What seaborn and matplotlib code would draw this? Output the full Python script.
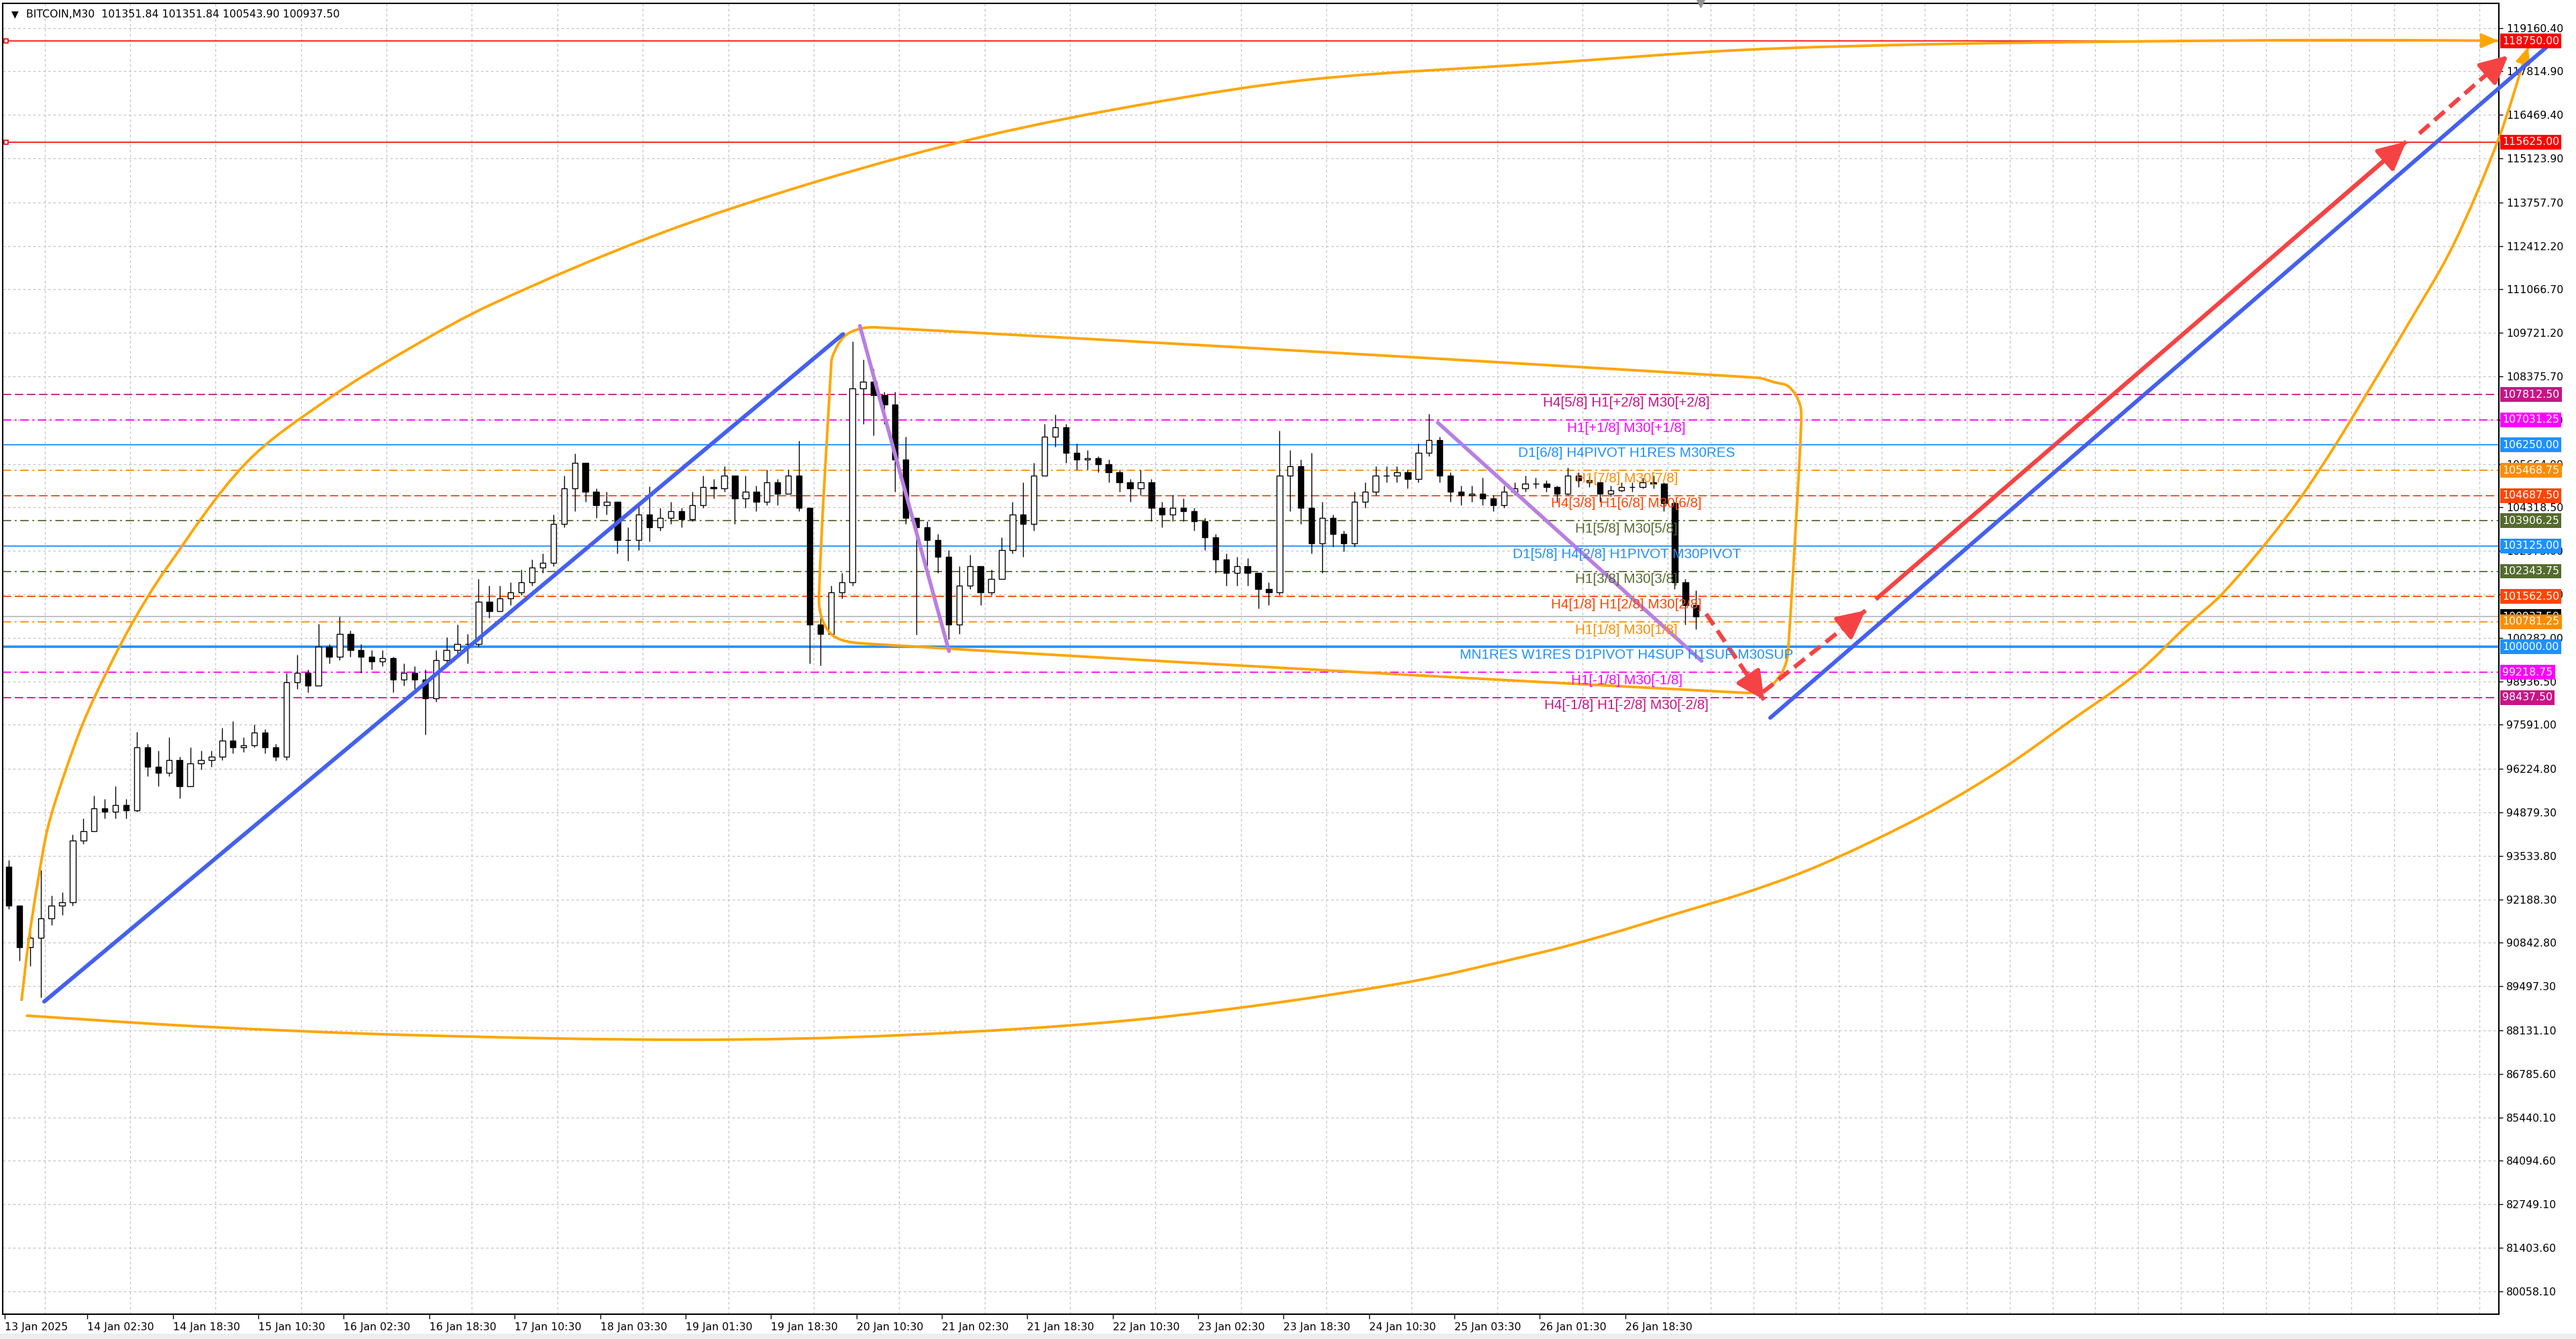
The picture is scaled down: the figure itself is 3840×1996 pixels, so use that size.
import numpy as np
import pandas as pd
import matplotlib
matplotlib.use("Agg")
import matplotlib.pyplot as plt
from matplotlib.transforms import blended_transform_factory
from matplotlib.patches import Rectangle, PathPatch
from matplotlib.path import Path
import seaborn as sns

# ------------------------------------------------------------------ data
title_text = "BITCOIN,M30  101351.84 101351.84 100543.90 100937.50"
bars_per_candle = 4          # each drawn candle aggregates 4 M30 bars (2 hours)
first_open = 93200.0

close_2h = [92000, 90700, 91000, 91600, 92000, 92100, 94000, 94300, 95000, 94900,
            95100, 94950, 96900, 96300, 96100, 96500, 95700, 96400, 96500, 96600,
            97100, 96900, 96950, 97350, 96900, 96600, 98900, 99200, 98800, 100000,
            99700, 100400, 99900, 99700, 99550, 99650, 99000, 99200, 99000, 98400,
            99600, 99900, 100100, 100100, 101400, 101100, 101500, 101700, 102000, 102450,
            102600, 103800, 104900, 105700, 104800, 104400, 104500, 103300, 103300, 104100,
            103700, 104000, 104200, 103950, 104400, 104950, 104900, 105300, 104600, 104800,
            104500, 105100, 104750, 105300, 104300, 100700, 100400, 101700, 102000, 108000,
            108200, 107800, 107500, 105800, 104000, 103700, 103300, 102800, 100700, 101900,
            102500, 101700, 102100, 103000, 104100, 103800, 105300, 106500, 106800, 106000,
            105800, 105850, 105650, 105400, 105100, 104900, 105100, 104300, 104100, 104300,
            104200, 103900, 103400, 102700, 102300, 102500, 102300, 101800, 101700, 105300,
            105600, 104300, 103200, 104000, 103500, 103200, 104500, 104800, 105300, 105300,
            105400, 105200, 106000, 106400, 105300, 104800, 104700, 104750, 104600, 104400,
            104800, 104900, 105050, 105050, 104950, 104750, 105300, 105150, 105100, 104750,
            104850, 104950, 104950, 105100, 105050, 104450, 102000, 101300, 100937.5]

high_2h = [93400, 92000, 91300, 93100, 92300, 92400, 94200, 94700, 95400, 95300,
           95700, 95300, 97380, 97000, 96800, 97200, 96600, 96900, 96800, 96800,
           97500, 97700, 97200, 97600, 97450, 97000, 99200, 99764, 99300, 100710,
           100100, 100935, 100500, 100100, 99900, 99900, 99700, 99500, 99400, 99300,
           99900, 100300, 100700, 100400, 102100, 101900, 101900, 102000, 102400, 102700,
           102900, 104100, 105300, 105990, 105600, 104900, 104800, 104500, 103700, 104400,
           104970, 104300, 104500, 104300, 104800, 105300, 105200, 105600, 105300, 105300,
           105000, 105500, 105200, 105500, 106380, 104300, 101200, 101900, 102300, 109450,
           108900, 108600, 107900, 107900, 106500, 104000, 103900, 103500, 103000, 102500,
           102850, 102100, 102400, 103400, 104500, 105100, 105700, 106900, 107200, 106900,
           106300, 106100, 105900, 105800, 105500, 105200, 105500, 105200, 104500, 104700,
           104600, 104300, 104000, 103500, 102900, 102800, 102750, 102200, 102000, 106700,
           106100, 105800, 106000, 104500, 104100, 103600, 104800, 105100, 105600, 105600,
           105600, 105500, 106300, 107220, 106500, 105400, 105000, 105000, 105250, 104700,
           105000, 105100, 105300, 105250, 105150, 105000, 105560, 105400, 105300, 105100,
           105000, 105100, 105100, 105250, 105300, 105100, 104500, 102100, 101750]

low_2h = [91900, 90300, 90130, 89140, 91400, 91700, 92000, 93900, 94300, 94700,
          94700, 94700, 94900, 96000, 95700, 96000, 95310, 95800, 96200, 96300,
          96500, 96700, 96750, 96900, 96700, 96470, 96500, 98700, 98590, 98900,
          99500, 99600, 99700, 99200, 99300, 99400, 98600, 98800, 98700, 97290,
          98300, 99400, 99700, 99500, 100000, 100900, 101100, 101300, 101600, 101900,
          102300, 102500, 103700, 104200, 104500, 104000, 104100, 102900, 102670, 103000,
          103270, 103600, 103800, 103700, 103900, 104300, 104600, 104800, 103800, 104300,
          104200, 104400, 104400, 104800, 104200, 99480, 99425, 100500, 101500, 101900,
          106900, 106540, 106900, 104800, 103800, 100390, 102500, 102300, 100240, 100400,
          101800, 101300, 101600, 102200, 102900, 102800, 103600, 105300, 106200, 105700,
          105500, 105500, 105400, 105100, 104800, 104500, 104700, 103900, 103700, 103900,
          103900, 103600, 103000, 102300, 101900, 101900, 101900, 101200, 101300, 101600,
          104200, 103800, 102900, 102300, 103100, 102950, 103100, 104300, 104700, 105100,
          105100, 104900, 105100, 105900, 105100, 104500, 104400, 104500, 104400, 104200,
          104300, 104700, 104800, 104900, 104800, 104500, 104700, 104950, 104950, 104500,
          104650, 104800, 104800, 104900, 104900, 104200, 101800, 100700, 100543.9]

price_ticks = [119160.40, 117814.90, 116469.40, 115123.90, 113757.70, 112412.20, 111066.70,
               109721.20, 108375.70, 107030.20, 105664.00, 104318.50, 102973.00, 101627.50,
               100282.00, 98936.50, 97591.00, 96224.80, 94879.30, 93533.80, 92188.30,
               90842.80, 89497.30, 88131.10, 86785.60, 85440.10, 84094.60, 82749.10,
               81403.60, 80058.10]

date_bars = [0, 31, 63, 95, 127, 159, 191, 223, 255, 287, 319, 351, 383, 415, 447,
             479, 511, 543, 575, 607]
date_labels = ["13 Jan 2025", "14 Jan 02:30", "14 Jan 18:30", "15 Jan 10:30", "16 Jan 02:30",
               "16 Jan 18:30", "17 Jan 10:30", "18 Jan 03:30", "19 Jan 01:30", "19 Jan 18:30",
               "20 Jan 10:30", "21 Jan 02:30", "21 Jan 18:30", "22 Jan 10:30", "23 Jan 02:30",
               "23 Jan 18:30", "24 Jan 10:30", "25 Jan 03:30", "26 Jan 01:30", "26 Jan 18:30"]

# Murrey / pivot levels
level_prices = [107812.50, 107031.25, 106250.00, 105468.75, 104687.50, 103906.25, 103125.00,
                102343.75, 101562.50, 100781.25, 100000.00, 99218.75, 98437.50]
level_colors = ["#C71585", "#FF00FF", "#1E90FF", "#FF8C00", "#FF4500", "#556B2F", "#1E90FF",
                "#556B2F", "#FF4500", "#FF8C00", "#1E90FF", "#FF00FF", "#C71585"]
level_kinds = ["dash", "dashdot", "solid", "dashdot", "dash", "dashdot", "solid",
               "dashdot", "dash", "dashdot", "solid2", "dashdot", "dash"]
level_texts = ["H4[5/8] H1[+2/8] M30[+2/8]", "H1[+1/8] M30[+1/8]",
               "D1[6/8] H4PIVOT H1RES M30RES", "H1[7/8] M30[7/8]",
               "H4[3/8] H1[6/8] M30[6/8]", "H1[5/8] M30[5/8]",
               "D1[5/8] H4[2/8] H1PIVOT M30PIVOT", "H1[3/8] M30[3/8]",
               "H4[1/8] H1[2/8] M30[2/8]", "H1[1/8] M30[1/8]",
               "MN1RES W1RES D1PIVOT H4SUP H1SUP M30SUP", "H1[-1/8] M30[-1/8]",
               "H4[-1/8] H1[-2/8] M30[-2/8]"]
target_prices = [118750.00, 115625.00]
bid_price = 100937.50

box_prices = [118750.00, 115625.00, 107812.50, 107031.25, 106250.00, 105468.75, 104687.50,
              103906.25, 103125.00, 102343.75, 101562.50, 100937.50, 100781.25, 100000.00,
              99218.75, 98437.50]
box_colors = ["#FF0000", "#FF0000", "#C71585", "#FF00FF", "#1E90FF", "#FF8C00", "#FF4500",
              "#556B2F", "#1E90FF", "#556B2F", "#FF4500", "#000000", "#FF8C00", "#1E90FF",
              "#FF00FF", "#C71585"]

# drawn objects (bar index, price)
blue1_x, blue1_y = [14.8, 314.0], [89025, 109684]
blue2_x, blue2_y = [661.3, 955.0], [97808, 118779]
purple1_x, purple1_y = [320.3, 353.7], [109940, 99870]
purple2_x, purple2_y = [536.8, 635.6], [106944, 99567]

box_x = [309.5, 310.1, 314.1, 319.6, 326.4, 656.3, 662.8, 668.3, 672.4, 672.8, 670.6, 668.3,
         667.3, 663.8, 658.4, 650.3, 320.9, 310.8, 306.3, 305.0]
box_y = [108626, 109000, 109581, 109830, 109892, 108335, 108194, 108055, 107505, 106805,
         103373, 100287, 99531, 98985, 98643, 98587, 100113, 100320, 100839, 101566]

arc_top_x = [6.3, 8.9, 12.6, 16.3, 22.4, 29.6, 38.2, 47.9, 60.1, 90.2, 121.1, 151.8, 182.7,
             244.2, 305.5, 367.1, 428.6, 490.2, 576.1, 650.3, 724.1, 798.2, 872.4, 933.9]
arc_top_y = [89046, 90852, 92825, 94453, 96072, 97694, 99224, 100756, 102376, 105677, 107671,
             109249, 110619, 112758, 114440, 115810, 116827, 117574, 118062, 118476, 118660,
             118743, 118785, 118764]
arc_low_x = [945.2, 933.9, 916.8, 899.5, 884.7, 872.4, 860.1, 847.7, 830.4, 818.1, 798.2,
             773.6, 749.0, 724.1, 699.5, 674.9, 650.3, 625.4, 600.8, 576.1, 521.4, 428.9,
             336.7, 256.8, 152.0, 72.1, 8.0]
arc_low_y = [118571, 115685, 112384, 109892, 107837, 106175, 104639, 103289, 101629, 100715,
             99158, 97705, 96272, 95027, 93989, 93075, 92348, 91726, 91110, 90557, 89565,
             88507, 87988, 87843, 87988, 88258, 88590]

red_dash1 = ([637.3, 659.0], [101026, 98360])
red_dash2 = ([658.5, 697.0], [98600, 101130])
red_solid = ([700.8, 899.5], [101472, 115643])
red_dash3 = ([904.4, 937.7], [115893, 118309])

# ------------------------------------------------------------------ style
sns.set_theme(style="white")
plt.rcParams["font.family"] = ["DejaVu Sans"]
plt.rcParams["axes.linewidth"] = 1.5

W, H = 3840, 1996
fig = plt.figure(figsize=(W / 100, H / 100), dpi=100)
fig.patch.set_facecolor("white")
ax = fig.add_axes([4 / W, 37 / H, 3721 / W, 1954 / H])
ax.set_facecolor("white")
for s in ax.spines.values():
    s.set_color("black")
    s.set_linewidth(1.5)

ax.set_xlim(-0.75, 934.2)
ax.set_ylim(79349, 119921)

# grid / ticks
grid_kw = dict(color="#C4C4C4", linestyle=(0, (3, 3)), linewidth=0.9)
ax.set_yticks(price_ticks)
ax.set_yticklabels([f"{p:.2f}" for p in price_ticks])
ax.yaxis.tick_right()
ax.tick_params(axis="y", which="major", right=True, left=False, length=4, width=1,
               pad=4, labelsize=11.3, labelcolor="black", color="black", direction="out")
ax.grid(axis="y", which="major", **grid_kw)
ax.set_xticks(date_bars)
ax.set_xticklabels(date_labels)
for lab in ax.get_xticklabels():
    lab.set_ha("left")
ax.set_xticks(np.arange(15, 935, 16), minor=True)
ax.tick_params(axis="x", which="major", bottom=True, length=5, width=1, pad=4,
               labelsize=11.3, labelcolor="black", color="black", direction="out")
ax.tick_params(axis="x", which="minor", bottom=False, length=0)
ax.grid(axis="x", which="minor", **grid_kw)
ax.grid(axis="x", which="major", visible=False)
ax.set_axisbelow(True)

# level lines
style_map = {"dash": ((0, (7, 3)), 1.3), "dashdot": ((0, (7, 3, 1.5, 3)), 1.3),
             "solid": ("-", 1.3), "solid2": ("-", 2.6)}
for p, c, k in zip(level_prices, level_colors, level_kinds):
    ls, lw = style_map[k]
    ax.axhline(p, color=c, linestyle=ls, linewidth=lw, zorder=1)
for p in target_prices:
    ax.axhline(p, color="#FF0000", linewidth=1.2, zorder=1)
    ax.plot([0.6], [p], marker="s", ms=5, mfc="white", mec="#FF0000", mew=1.2, zorder=2,
            clip_on=False)
ax.axhline(bid_price, color="#C0C0C0", linewidth=1.4, zorder=1)

# candles
n = len(close_2h)
opens = [first_open] + close_2h[:-1]
df = pd.DataFrame({"x": np.arange(n) * bars_per_candle + 1.5, "open": opens,
                   "close": close_2h, "high": high_2h, "low": low_2h})
df["high"] = df[["high", "open", "close"]].max(axis=1)
df["low"] = df[["low", "open", "close"]].min(axis=1)
up = df["close"] >= df["open"]
ax.vlines(df["x"], df["low"], df["high"], color="black", linewidth=1.0, zorder=3)
bw = 2.1
ax.bar(df["x"][up], (df["close"] - df["open"])[up], bottom=df["open"][up], width=bw,
       color="white", edgecolor="black", linewidth=1.0, zorder=4)
ax.bar(df["x"][~up], (df["close"] - df["open"])[~up], bottom=df["open"][~up], width=bw,
       color="black", edgecolor="black", linewidth=1.0, zorder=4)

# orange drawn shapes as smooth Bezier paths through the anchor points
orange = "#FFA500"
def bezier_path(xs, ys, closed=False):
    pts = ax.transData.transform(np.column_stack([xs, ys]))
    m = len(pts)
    tang = np.zeros_like(pts)
    for i in range(m):
        if closed:
            a, b = pts[(i - 1) % m], pts[(i + 1) % m]
        else:
            a, b = pts[max(i - 1, 0)], pts[min(i + 1, m - 1)]
        d = b - a
        tang[i] = d / (np.hypot(*d) + 1e-9)
    order = list(range(m)) + ([0] if closed else [])
    verts, codes = [pts[order[0]]], [Path.MOVETO]
    for i, j in zip(order[:-1], order[1:]):
        L = np.hypot(*(pts[j] - pts[i]))
        verts += [pts[i] + tang[i] * L / 3, pts[j] - tang[j] * L / 3, pts[j]]
        codes += [Path.CURVE4] * 3
    return Path(ax.transData.inverted().transform(np.array(verts)), codes)

for xs, ys, closed in [(arc_top_x, arc_top_y, False), (arc_low_x, arc_low_y, False),
                       (box_x, box_y, True)]:
    ax.add_patch(PathPatch(bezier_path(xs, ys, closed), fill=False, edgecolor=orange,
                           linewidth=2.8, zorder=5, clip_on=False, joinstyle="round"))
for xs, ys in [(arc_top_x, arc_top_y), (arc_low_x[::-1], arc_low_y[::-1])]:
    ax.annotate("", xy=(xs[-1], ys[-1]), xytext=(xs[-2] * 0.1 + xs[-1] * 0.9,
                                                   ys[-2] * 0.1 + ys[-1] * 0.9),
                arrowprops=dict(arrowstyle="-|>,head_length=0.8,head_width=0.35",
                                color=orange, lw=2, mutation_scale=20, shrinkA=0, shrinkB=0),
                zorder=5, annotation_clip=False)

# blue and purple lines (seaborn)
blue = "#4460F0"
purple = "#B87FE0"
for xs, ys, col, lw in [(blue1_x, blue1_y, blue, 4.3), (blue2_x, blue2_y, blue, 4.3),
                        (purple1_x, purple1_y, purple, 4.0), (purple2_x, purple2_y, purple, 4.0)]:
    nb = len(ax.lines)
    sns.lineplot(x=xs, y=ys, sort=False, estimator=None, color=col, linewidth=lw, ax=ax)
    for ln in ax.lines[nb:]:
        ln.set_clip_on(False)
        ln.set_zorder(6)
        ln.set_solid_capstyle("round")

# red arrows
red = "#F54343"
def red_arrow(seg, dashed):
    xs, ys = seg
    ax.plot(xs, ys, color=red, linewidth=4.5, zorder=7, clip_on=False,
            linestyle=(0, (3.2, 1.6)) if dashed else "-", solid_capstyle="butt")
    fx = xs[0] + 0.82 * (xs[1] - xs[0])
    fy = ys[0] + 0.82 * (ys[1] - ys[0])
    ax.annotate("", xy=(xs[1], ys[1]), xytext=(fx, fy),
                arrowprops=dict(arrowstyle="-|>,head_length=0.9,head_width=0.45",
                                color=red, lw=4.5, mutation_scale=28,
                                shrinkA=0, shrinkB=0),
                zorder=8, annotation_clip=False)

red_arrow(red_dash1, True)
red_arrow(red_dash2, True)
red_arrow(red_solid, False)
red_arrow(red_dash3, True)

# level texts
for p, c, t in zip(level_prices, level_colors, level_texts):
    ax.annotate(t, xy=(607.5, p), xytext=(0, -2), textcoords="offset points",
                ha="center", va="top", color=c, fontsize=14.9,
                family=["Liberation Sans", "DejaVu Sans"], zorder=9)

# price boxes on the right axis
trans = blended_transform_factory(ax.transAxes, ax.transData)
for p, c in zip(box_prices, box_colors):
    ax.annotate(f"{p:.2f}", xy=(1, p), xycoords=trans, xytext=(5, 0),
                textcoords="offset pixels", ha="left", va="center", color="white",
                fontsize=11.3, annotation_clip=False, zorder=10,
                bbox=dict(boxstyle="square,pad=0.22", fc=c, ec="none"))

# title
ax.text(0.0035, 0.9955, "\u25BC", transform=ax.transAxes, ha="left", va="top",
        fontsize=10, color="black", zorder=10)
ax.text(0.0095, 0.9955, title_text, transform=ax.transAxes, ha="left", va="top",
        fontsize=11.3, color="black", zorder=10)
# chart shift marker
ax.plot([635.2], [1.0], marker="v", ms=9, color="#909090",
        transform=blended_transform_factory(ax.transData, ax.transAxes), clip_on=False,
        zorder=10)

# bottom strip
fig.patches.append(Rectangle((0, 0), 1, 8 / H, transform=fig.transFigure,
                             facecolor="#EDEDED", edgecolor="none"))

fig.savefig("out.png", dpi=100, facecolor="white")
